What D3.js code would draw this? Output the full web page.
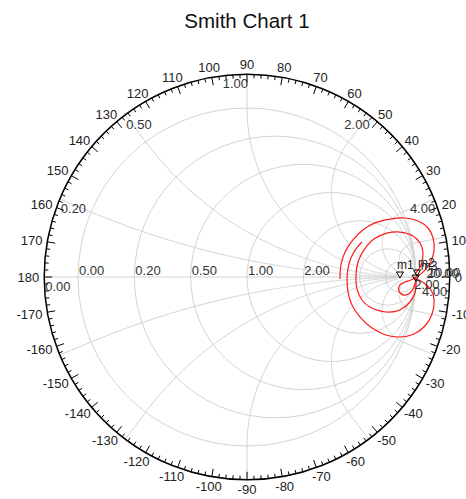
<!DOCTYPE html>
<html>
<head>
<meta charset="utf-8">
<script src="https://cdn.jsdelivr.net/npm/d3@7"></script>
<style>
  body { margin: 0; background: #fff; }
  text { font-family: "Liberation Sans", Arial, sans-serif; }
</style>
</head>
<body>
<svg id="chart" width="466" height="499"></svg>
<script>
// Grid values of the Smith chart
const resistanceCircles = [0, 0.2, 0.5, 1, 2, 5, 10];
const resistanceLabelValues = [0, 0.2, 0.5, 1, 2];
const reactanceArcs = [0.2, 0.5, 1, 2, 5, 10];
const reactanceLabelValues = [0, 0.2, 0.5, 1, 2, 5];
const reactanceLabelText = ["0.00", "0.20", "0.50", "1.00", "2.00", "4.00"];
const angleLabels = d3.range(-170, 181, 10);

// Reflection-coefficient traces (real, imaginary)
const trace1 = [
  [0.550, -0.012], [0.556, 0.071], [0.580, 0.148], [0.627, 0.219], [0.686, 0.278],
  [0.757, 0.320], [0.846, 0.343], [0.935, 0.349], [1.012, 0.331], [1.071, 0.290],
  [1.101, 0.231], [1.107, 0.160], [1.089, 0.095], [1.053, 0.041], [1.012, 0.006],
  [0.970, -0.018], [0.935, -0.030], [0.905, -0.047], [0.899, -0.083], [0.929, -0.107],
  [0.964, -0.095], [0.988, -0.059], [1.000, -0.018]
];
const trace2 = [
  [0.680, 0.207], [0.645, 0.166], [0.615, 0.112], [0.598, 0.053], [0.592, -0.018],
  [0.598, -0.089], [0.621, -0.166], [0.669, -0.237], [0.740, -0.302], [0.822, -0.343],
  [0.905, -0.355], [0.988, -0.337], [1.053, -0.290], [1.095, -0.219], [1.107, -0.136],
  [1.089, -0.077], [1.047, -0.036], [1.006, -0.012]
];
const trace3 = [
  [0.994, 0.018], [1.030, 0.071], [1.041, 0.148], [1.024, 0.201], [0.982, 0.243],
  [0.905, 0.266], [0.828, 0.260], [0.751, 0.225], [0.692, 0.160], [0.657, 0.089],
  [0.645, 0.012], [0.651, -0.071], [0.680, -0.136], [0.728, -0.178], [0.822, -0.207],
  [0.905, -0.195], [0.964, -0.148], [0.994, -0.095], [1.000, -0.036], [0.994, 0.000]
];
const traces = [trace1, trace2, trace3];

// Markers
const markerNames = ["m1", "m2", "m3"];
const markerPoints = [[0.905, -0.006], [1.006, 0.006], [0.998, -0.024]];

// Layout
const svg = d3.select("#chart");
const cx = 247, cy = 277, R = 169, outerScale = 1.2;
const Ro = R * outerScale;

const x = d3.scaleLinear().domain([-1, 1]).range([cx - R, cx + R]);
const y = d3.scaleLinear().domain([-1, 1]).range([cy + R, cy - R]);
const rad = d3.scaleLinear().domain([0, 1]).range([0, R]);

const gridColor = "#d4d4d4";
const g = svg.append("g");

// Title
svg.append("text")
  .attr("x", cx).attr("y", 28)
  .attr("text-anchor", "middle")
  .attr("font-size", 20.5)
  .attr("fill", "#111")
  .text("Smith Chart 1");

// Convert impedance z = r + jx to reflection coefficient
function gamma(r, xx) {
  const dr = (r + 1) * (r + 1) + xx * xx;
  return [(r * r + xx * xx - 1) / dr, (2 * xx) / dr];
}

// Horizontal axis from the outer scale ring to the open-circuit point
g.append("line")
  .attr("x1", x(-outerScale)).attr("x2", x(1))
  .attr("y1", y(0)).attr("y2", y(0))
  .attr("stroke", gridColor).attr("stroke-width", 1);

// Constant-resistance circles
g.selectAll("circle.res").data(resistanceCircles).join("circle")
  .attr("class", "res")
  .attr("cx", d => x(d / (1 + d)))
  .attr("cy", y(0))
  .attr("r", d => rad(1 / (1 + d)))
  .attr("fill", "none")
  .attr("stroke", gridColor).attr("stroke-width", 1);

// Constant-reactance arcs inside the unit circle, plus radial extensions to the scale ring
const rSamples = d3.range(0, 60, 0.02).concat(d3.range(60, 2000, 5));
const arcLine = d3.line().x(d => x(d[0])).y(d => y(d[1]));
reactanceArcs.forEach(xv => {
  [xv, -xv].forEach(s => {
    const pts = rSamples.map(r => gamma(r, s));
    pts.push([1, 0]);
    g.append("path").attr("d", arcLine(pts))
      .attr("fill", "none").attr("stroke", gridColor).attr("stroke-width", 1);
    const edge = gamma(0, s);
    g.append("line")
      .attr("x1", x(edge[0])).attr("y1", y(edge[1]))
      .attr("x2", x(edge[0] * outerScale)).attr("y2", y(edge[1] * outerScale))
      .attr("stroke", gridColor).attr("stroke-width", 1);
  });
});

// Resistance labels along the real axis
g.selectAll("text.rlab").data(resistanceLabelValues).join("text")
  .attr("class", "rlab")
  .attr("x", d => x((d - 1) / (d + 1)) + 1)
  .attr("y", y(0) - 2)
  .attr("font-size", 13)
  .attr("fill", "#333")
  .text(d => d.toFixed(2));

// Reactance labels at the scale ring
reactanceLabelValues.forEach((xv, i) => {
  const e = gamma(0, xv);
  const px = x(e[0] * outerScale), py = y(e[1] * outerScale);
  const left = e[0] < -0.05;
  g.append("text")
    .attr("x", px + 1)
    .attr("y", py + 14)
    .attr("text-anchor", left ? "start" : "end")
    .attr("font-size", 13)
    .attr("fill", "#333")
    .text(reactanceLabelText[i]);
});

// Outer angle scale
const ring = svg.append("g");
ring.append("circle")
  .attr("cx", cx).attr("cy", cy).attr("r", Ro)
  .attr("fill", "none").attr("stroke", "#000").attr("stroke-width", 1.5);

const tickAngles = d3.range(-178, 181, 2);
ring.selectAll("line.tick").data(tickAngles).join("line")
  .attr("class", "tick")
  .each(function (a) {
    const t = a * Math.PI / 180;
    const len = a % 10 === 0 ? 8 : 4;
    d3.select(this)
      .attr("x1", cx + Ro * Math.cos(t)).attr("y1", cy - Ro * Math.sin(t))
      .attr("x2", cx + (Ro - len) * Math.cos(t)).attr("y2", cy - (Ro - len) * Math.sin(t));
  })
  .attr("stroke", "#000").attr("stroke-width", 1);

ring.selectAll("text.alab").data(angleLabels).join("text")
  .attr("class", "alab")
  .attr("font-size", 13)
  .attr("fill", "#222")
  .attr("text-anchor", "middle")
  .text(d => d)
  .each(function (a) {
    const t = a * Math.PI / 180;
    const w = this.getComputedTextLength();
    const h = 9.5;
    const px = cx + (Ro + 5) * Math.cos(t) + Math.cos(t) * w / 2;
    const py = cy - (Ro + 5) * Math.sin(t) - Math.sin(t) * h / 2;
    d3.select(this).attr("x", px).attr("y", py + h / 2);
  });

// Traces
const traceLine = d3.line()
  .x(d => x(d[0])).y(d => y(d[1]))
  .curve(d3.curveCatmullRom.alpha(0.5));
svg.append("g").selectAll("path").data(traces).join("path")
  .attr("d", traceLine)
  .attr("fill", "none")
  .attr("stroke", "#ff1a1a")
  .attr("stroke-width", 1.2);

// Markers
const mk = svg.append("g");
markerPoints.forEach((p, i) => {
  const px = x(p[0]), py = y(p[1]);
  mk.append("path")
    .attr("d", `M${px - 3.5},${py - 6}L${px + 3.5},${py - 6}L${px},${py}Z`)
    .attr("fill", "none").attr("stroke", "#000").attr("stroke-width", 1);
  mk.append("text")
    .attr("x", px - 3 + i * 4).attr("y", py - 9 - (i === 2 ? 2 : 0))
    .attr("font-size", 12).attr("fill", "#222")
    .text(markerNames[i]);
});

// Value tags next to the open-circuit point
const tagText = ["20.00", "10.00", "2.00", "4.00"];
const tagPos = [[1.06, -0.005], [1.07, 0.0], [0.99, -0.07], [1.035, -0.115]];
tagText.forEach((t, i) => {
  mk.append("text")
    .attr("x", x(tagPos[i][0])).attr("y", y(tagPos[i][1]))
    .attr("font-size", 13).attr("fill", "#333")
    .text(t);
});
</script>
</body>
</html>
